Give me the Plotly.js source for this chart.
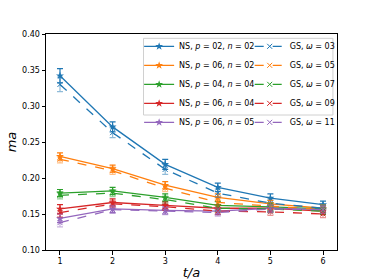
<!DOCTYPE html>
<html><head><meta charset="utf-8">
<script src="https://cdn.plot.ly/plotly-3.0.1.min.js"></script>
<style>html,body{margin:0;padding:0;background:#fff}#c{width:374px;height:280px}</style>
</head><body><div id="c"></div>
<script>
const t = [1, 2, 3, 4, 5, 6];
const nsLabels = ["NS, <i>p</i> = 02, <i>n</i> = 02", "NS, <i>p</i> = 06, <i>n</i> = 02", "NS, <i>p</i> = 04, <i>n</i> = 04", "NS, <i>p</i> = 06, <i>n</i> = 04", "NS, <i>p</i> = 06, <i>n</i> = 05"];
const gsLabels = ["GS, <i>ω</i> = 03", "GS, <i>ω</i> = 05", "GS, <i>ω</i> = 07", "GS, <i>ω</i> = 09", "GS, <i>ω</i> = 11"];
const colors = ["#1f77b4", "#ff7f0e", "#2ca02c", "#d62728", "#9467bd"];
const nsVals = [
  [0.342, 0.271, 0.219, 0.187, 0.172, 0.163],
  [0.230, 0.213, 0.190, 0.173, 0.164, 0.158],
  [0.179, 0.182, 0.173, 0.162, 0.160, 0.157],
  [0.157, 0.166, 0.162, 0.158, 0.158, 0.154],
  [0.144, 0.157, 0.155, 0.154, 0.158, 0.156]
];
const nsErr = [
  [0.010, 0.007, 0.007, 0.006, 0.006, 0.005],
  [0.005, 0.005, 0.005, 0.005, 0.005, 0.005],
  [0.005, 0.005, 0.005, 0.005, 0.005, 0.005],
  [0.006, 0.005, 0.005, 0.005, 0.005, 0.005],
  [0.006, 0.005, 0.005, 0.005, 0.005, 0.005]
];
const gsVals = [
  [0.330, 0.263, 0.212, 0.179, 0.165, 0.158],
  [0.226, 0.210, 0.186, 0.166, 0.161, 0.156],
  [0.176, 0.179, 0.170, 0.158, 0.157, 0.154],
  [0.152, 0.164, 0.160, 0.154, 0.153, 0.150],
  [0.138, 0.156, 0.154, 0.152, 0.157, 0.156]
];
const gsErr = [
  [0.010, 0.007, 0.007, 0.006, 0.006, 0.005],
  [0.005, 0.005, 0.005, 0.005, 0.005, 0.005],
  [0.005, 0.005, 0.005, 0.005, 0.005, 0.005],
  [0.006, 0.005, 0.005, 0.005, 0.005, 0.005],
  [0.006, 0.005, 0.005, 0.005, 0.005, 0.005]
];
function rgba(hex, a){const r=parseInt(hex.slice(1,3),16),g=parseInt(hex.slice(3,5),16),b=parseInt(hex.slice(5,7),16);return `rgba(${r},${g},${b},${a})`;}
const traces = [];
for (let i = 0; i < 5; i++) {
  traces.push({x: t, y: nsVals[i], name: nsLabels[i], type: 'scatter', mode: 'lines+markers',
    line: {color: colors[i], width: 1.3}, marker: {symbol: 'star', size: 6, color: colors[i]},
    error_y: {type: 'data', array: nsErr[i], visible: true, color: colors[i], thickness: 1.2, width: 3},
    legend: 'legend'});
}
for (let i = 0; i < 5; i++) {
  traces.push({x: t, y: gsVals[i], name: gsLabels[i], type: 'scatter', mode: 'lines+markers',
    line: {color: colors[i], width: 1.3, dash: 'dash'}, marker: {symbol: 'x-thin-open', size: 5, color: colors[i], line: {color: colors[i], width: 1}},
    error_y: {type: 'data', array: gsErr[i], visible: true, color: rgba(colors[i], 0.5), thickness: 1.2, width: 3},
    legend: 'legend2'});
}
const legBase = {font: {family: 'DejaVu Sans', size: 8, color: '#000'}, bgcolor: 'rgba(0,0,0,0)', borderwidth: 0,
  xanchor: 'left', yanchor: 'top', y: 1.01, tracegroupgap: 0, itemwidth: 30};
const layout = {
  width: 374, height: 280,
  margin: {l: 46, r: 37, t: 34, b: 30},
  paper_bgcolor: '#fff', plot_bgcolor: '#fff',
  font: {family: 'DejaVu Sans', size: 8, color: '#000'},
  xaxis: {range: [0.734, 6.266], tickvals: t, ticktext: t.map(String), showgrid: false, zeroline: false,
    showline: true, mirror: true, linecolor: '#000', linewidth: 1, ticks: 'outside', ticklen: 3.5, tickcolor: '#000',
    title: {text: '<i>t/a</i>', font: {size: 13}, standoff: 4}},
  yaxis: {range: [0.10, 0.40], dtick: 0.05, tickformat: '.2f', showgrid: false, zeroline: false,
    showline: true, mirror: true, linecolor: '#000', linewidth: 1, ticks: 'outside', ticklen: 3.5, tickcolor: '#000',
    title: {text: '<i>ma</i>', font: {size: 13}, standoff: 2}},
  showlegend: true,
  legend: Object.assign({}, legBase, {x: 0.32}),
  legend2: Object.assign({}, legBase, {x: 0.70}),
  shapes: [{type: 'rect', xref: 'paper', yref: 'paper', x0: 0.335, x1: 0.986, y0: 0.625, y1: 0.98,
    line: {color: '#d0d0d0', width: 1}, fillcolor: 'rgba(255,255,255,0.8)', layer: 'above'}]
};
Plotly.newPlot('c', traces, layout, {staticPlot: true, displayModeBar: false});
</script></body></html>
